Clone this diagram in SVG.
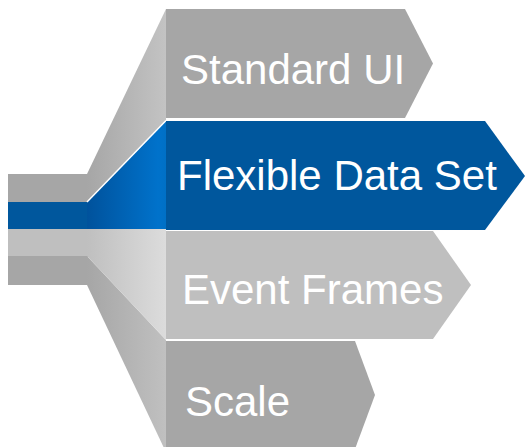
<svg xmlns="http://www.w3.org/2000/svg" width="525" height="447" viewBox="0 0 525 447">
  <defs>
    <linearGradient id="gGray" gradientUnits="userSpaceOnUse" x1="87" y1="0" x2="166" y2="0">
      <stop offset="0" stop-color="#a6a6a6"/>
      <stop offset="1" stop-color="#c3c3c3"/>
    </linearGradient>
    <linearGradient id="gBlue" gradientUnits="userSpaceOnUse" x1="87" y1="0" x2="166" y2="0">
      <stop offset="0" stop-color="#00529c"/>
      <stop offset="0.9" stop-color="#0072cb"/>
      <stop offset="1" stop-color="#0070c6"/>
    </linearGradient>
    <linearGradient id="gLight" gradientUnits="userSpaceOnUse" x1="87" y1="0" x2="166" y2="0">
      <stop offset="0" stop-color="#bfbfbf"/>
      <stop offset="1" stop-color="#dcdcdc"/>
    </linearGradient>
    <linearGradient id="gDark" gradientUnits="userSpaceOnUse" x1="87" y1="0" x2="166" y2="0">
      <stop offset="0" stop-color="#a6a6a6"/>
      <stop offset="1" stop-color="#c0c0c0"/>
    </linearGradient>
  </defs>
  <style>
    .lbl { font-family: "Liberation Sans", Arial, sans-serif; font-size: 42px; fill: #ffffff; }
    .gray { fill: #a6a6a6; }
    .blue { fill: #00579d; }
    .light { fill: #bfbfbf; }
  </style>
  <rect width="525" height="447" fill="#ffffff"/>

  <g id="connectors">
    <!-- Standard UI stem -->
    <rect class="gray" x="8" y="174" width="80" height="28"/>
    <polygon points="87,174 166,9 166,121 87,202" fill="url(#gGray)"/>
    <!-- Scale stem -->
    <rect class="gray" x="8" y="256" width="80" height="29"/>
    <polygon points="87,256 166,340 166,447 163.5,447 87,285" fill="url(#gDark)"/>
    <!-- Event Frames stem -->
    <rect class="light" x="8" y="229" width="80" height="27"/>
    <polygon points="87,229 166,229 166,340 87,256" fill="url(#gLight)"/>
    <!-- Flexible Data Set stem -->
    <rect class="blue" x="8" y="202" width="80" height="27"/>
    <polygon points="87,202 166,121 166,229 87,229" fill="url(#gBlue)"/>
    <line x1="87" y1="202" x2="166" y2="120.5" stroke="#ffffff" stroke-width="1.5"/>
  </g>

  <g id="node-standard-ui">
    <polygon class="gray" points="166,9 405,9 433,63.5 405,118 166,118"/>
    <text class="lbl" x="181" y="84">Standard UI</text>
  </g>

  <g id="node-flexible-data-set">
    <polygon class="blue" points="166,121 485,121 525,176 485,230 166,230"/>
    <text class="lbl" x="177" y="190">Flexible Data Set</text>
  </g>

  <g id="node-event-frames">
    <polygon class="light" points="166,231 433,231 471,285 433,339 166,339"/>
    <text class="lbl" x="182" y="304">Event Frames</text>
  </g>

  <g id="node-scale">
    <polygon class="gray" points="166,341 355,341 375,395 355,449 166,449"/>
    <text class="lbl" x="185" y="416">Scale</text>
  </g>
</svg>
